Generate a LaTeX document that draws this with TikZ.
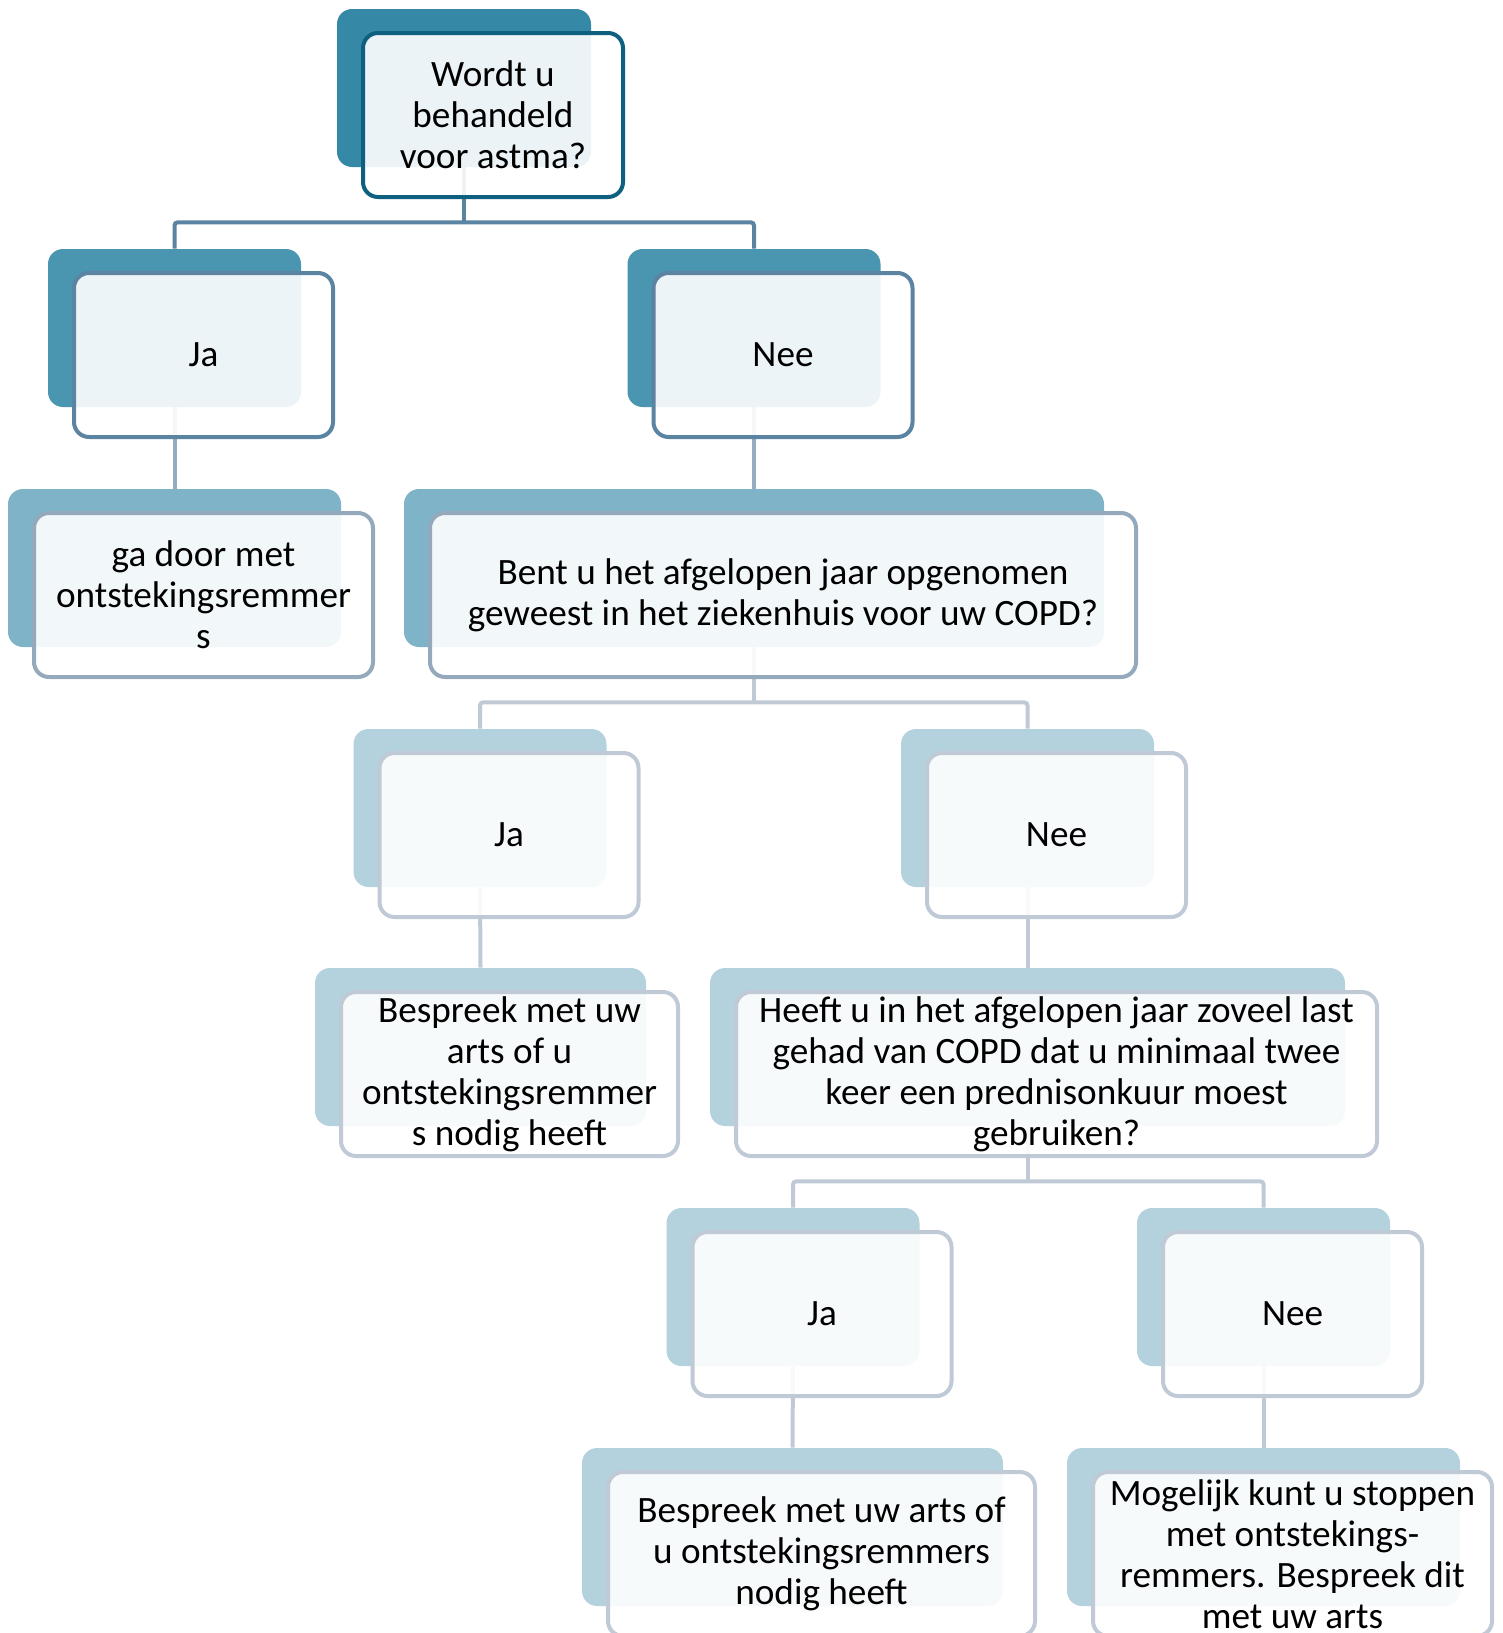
\documentclass[tikz,border=0pt]{standalone}
\usepackage{fontspec}
\setmainfont{Carlito}
\usetikzlibrary{positioning, backgrounds}
\definecolor{bkA}{HTML}{3589A6}
\definecolor{bkB}{HTML}{4A96B1}
\definecolor{bkC}{HTML}{7EB3C8}
\definecolor{bkD}{HTML}{B4D2DE}
\definecolor{frA}{HTML}{0E5F80}
\definecolor{frB}{HTML}{5B83A2}
\definecolor{frC}{HTML}{94A9BB}
\definecolor{frD}{HTML}{BFCAD6}
\definecolor{lnA}{HTML}{5B84A2}
\definecolor{lnB}{HTML}{96ACC0}
\definecolor{lnC}{HTML}{BFCAD6}

\begin{document}
\begin{tikzpicture}[
  x=0.5pt, y=-0.5pt,
  font=\fontsize{18.6pt}{20.5pt}\selectfont,
  % achterste vlak
  back/.style={rectangle, rounded corners=7.5pt, inner sep=0pt, minimum height=79pt},
  % voorste vlak met tekst
  front/.style={rectangle, rounded corners=7.5pt, draw, line width=2pt, fill=white, fill opacity=0.9, text opacity=1,
    inner sep=0pt, minimum height=82pt, align=center, xshift=14.5pt, yshift=-13.5pt},
  conn/.style={line width=2pt, rounded corners=1.5pt}
]
\useasboundingbox (0,0) rectangle (1503,1633);

% Niveau 0
\node[back, fill=bkA, minimum width=127pt] (q0b) at (464,88) {};
\node[front, draw=frA, minimum width=130pt] (q0) at (q0b) {Wordt u\\behandeld\\voor astma?};

% Niveau 1
\node[back, fill=bkB, minimum width=126.5pt] (a1b) at (174.5,328) {};
\node[front, draw=frB, minimum width=129.5pt] (a1) at (a1b) {Ja};
\node[back, fill=bkB, minimum width=126.5pt] (n1b) at (754,328) {};
\node[front, draw=frB, minimum width=129.5pt] (n1) at (n1b) {Nee};

% Niveau 2
\node[back, fill=bkC, minimum width=166.5pt] (g2b) at (174.5,568) {};
\node[front, draw=frC, minimum width=169.5pt] (g2) at (g2b) {ga door met\\ontstekingsremmer\\s};
\node[back, fill=bkC, minimum width=350pt] (b2b) at (754,568) {};
\node[front, draw=frC, minimum width=353pt] (b2) at (b2b) {Bent u het afgelopen jaar opgenomen\\geweest in het ziekenhuis voor uw COPD?};

% Niveau 3
\node[back, fill=bkD, minimum width=126.5pt] (j3b) at (480,808) {};
\node[front, draw=frD, minimum width=129.5pt] (j3) at (j3b) {Ja};
\node[back, fill=bkD, minimum width=126.5pt] (n3b) at (1027.5,808) {};
\node[front, draw=frD, minimum width=129.5pt] (n3) at (n3b) {Nee};

% Niveau 4
\node[back, fill=bkD, minimum width=165.5pt] (s4b) at (480.5,1047) {};
\node[front, draw=frD, minimum width=168.5pt] (s4) at (s4b) {Bespreek met uw\\arts of u\\ontstekingsremmer\\s nodig heeft};
\node[back, fill=bkD, minimum width=317.5pt] (h4b) at (1027.5,1047) {};
\node[front, draw=frD, minimum width=320.5pt] (h4) at (h4b) {Heeft u in het afgelopen jaar zoveel last\\gehad van COPD dat u minimaal twee\\keer een prednisonkuur moest\\gebruiken?};

% Niveau 5
\node[back, fill=bkD, minimum width=126.5pt] (j5b) at (793,1287) {};
\node[front, draw=frD, minimum width=129.5pt] (j5) at (j5b) {Ja};
\node[back, fill=bkD, minimum width=126.5pt] (n5b) at (1263.5,1287) {};
\node[front, draw=frD, minimum width=129.5pt] (n5) at (n5b) {Nee};

% Niveau 6
\node[back, fill=bkD, minimum width=210.5pt] (s6b) at (792.5,1527) {};
\node[front, draw=frD, minimum width=213.5pt] (s6) at (s6b) {Bespreek met uw arts of\\u ontstekingsremmers\\nodig heeft};
\node[back, fill=bkD, minimum width=196.5pt] (m6b) at (1263.5,1527) {};
\node[front, draw=frD, minimum width=199.5pt] (m6) at (m6b) {Mogelijk kunt u stoppen\\met ontstekings-\\remmers. Bespreek dit\\met uw arts};

% Verbindingen
\begin{scope}[on background layer]
\path (q0b.south) ++(0,55) coordinate (q0j);
\draw[conn, draw=lnA] (q0b.south) -- (q0j);
\draw[conn, draw=lnA] (a1b.north) |- (q0j) -| (n1b.north);
\draw[conn, draw=lnB] (a1b.south) -- (g2b.north);
\draw[conn, draw=lnB] (n1b.south) -- (b2b.north);
\path (b2b.south) ++(0,55) coordinate (b2j);
\draw[conn, draw=lnC] (b2b.south) -- (b2j);
\draw[conn, draw=lnC] (j3b.north) |- (b2j) -| (n3b.north);
\draw[conn, draw=lnC] (j3b.south) -- (s4b.north);
\draw[conn, draw=lnC] (n3b.south) -- (h4b.north);
\path (h4b.south) ++(0,55) coordinate (h4j);
\draw[conn, draw=lnC] (h4b.south) -- (h4j);
\draw[conn, draw=lnC] (j5b.north) |- (h4j) -| (n5b.north);
\draw[conn, draw=lnC] (j5b.south) -- (s6b.north);
\draw[conn, draw=lnC] (n5b.south) -- (m6b.north);
\end{scope}

\end{tikzpicture}
\end{document}
